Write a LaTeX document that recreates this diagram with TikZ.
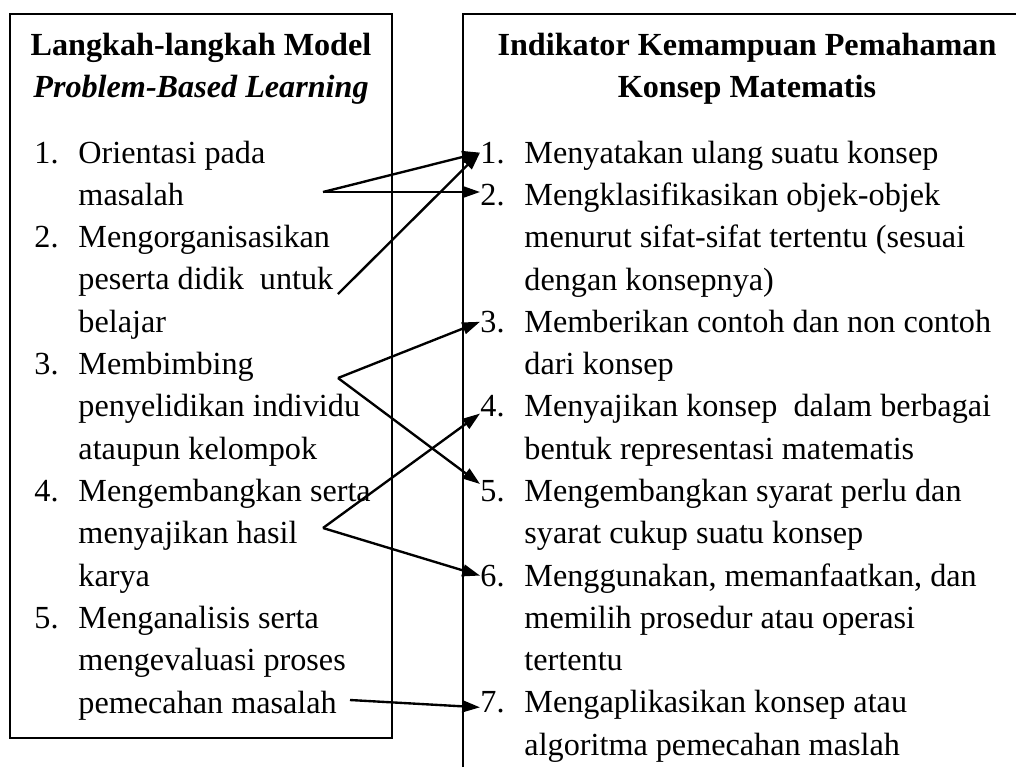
\documentclass[tikz,border=0pt]{standalone}
\usepackage{fontspec}
\setmainfont{Liberation Serif}
\usetikzlibrary{arrows.meta}
\newcommand{\itemlines}[1]{\begin{tabular}[t]{@{}l@{}}#1\end{tabular}}
\newcommand{\headlines}[1]{\begin{tabular}[t]{@{}c@{}}#1\end{tabular}}
\tikzset{
  numtext/.style={anchor=base west,inner sep=0pt,font=\fontsize{13.6}{17.9}\selectfont},
  headtext/.style={anchor=base,inner sep=0pt,font=\fontsize{13.6}{17.9}\selectfont\bfseries},
  link/.style={-{Triangle[length=7.5pt,width=5pt]},line width=1pt},
  frame/.style={line width=1.2pt}
}
\begin{document}
\begin{tikzpicture}[x=0.4225pt,y=-0.4225pt]
\useasboundingbox (0,0) rectangle (1016,767);
% boxes
\draw[frame] (10,14) rectangle (392,738);
\draw[frame] (463,767) -- (463,14) -- (1016,14);
% headings
\node[headtext] (lhead) at (201,55) {\headlines{Langkah-langkah Model\\\textit{Problem-Based Learning}}};
\node[headtext] (rhead) at (747,55) {\headlines{Indikator Kemampuan Pemahaman\\Konsep Matematis}};
% left list
\node[numtext] (l1) at (34,163) {1.};
\node[numtext] (lt1) at (78,163) {\itemlines{Orientasi pada\\masalah}};
\node[numtext] (l2) at (34,247.6) {2.};
\node[numtext] (lt2) at (78,247.6) {\itemlines{Mengorganisasikan\\peserta didik\ \ untuk\\belajar}};
\node[numtext] (l3) at (34,374.5) {3.};
\node[numtext] (lt3) at (78,374.5) {\itemlines{Membimbing\\penyelidikan individu\\ataupun kelompok}};
\node[numtext] (l4) at (34,501.4) {4.};
\node[numtext] (lt4) at (78,501.4) {\itemlines{Mengembangkan serta\\menyajikan hasil\\karya}};
\node[numtext] (l5) at (34,628.3) {5.};
\node[numtext] (lt5) at (78,628.3) {\itemlines{Menganalisis serta\\mengevaluasi proses\\pemecahan masalah}};
% right list
\node[numtext] (r1) at (480,163) {1.};
\node[numtext] (rt1) at (524,163) {Menyatakan ulang suatu konsep};
\node[numtext] (r2) at (480,205.3) {2.};
\node[numtext] (rt2) at (524,205.3) {\itemlines{Mengklasifikasikan objek-objek\\menurut sifat-sifat tertentu (sesuai\\dengan konsepnya)}};
\node[numtext] (r3) at (480,332.2) {3.};
\node[numtext] (rt3) at (524,332.2) {\itemlines{Memberikan contoh dan non contoh\\dari konsep}};
\node[numtext] (r4) at (480,416.8) {4.};
\node[numtext] (rt4) at (524,416.8) {\itemlines{Menyajikan konsep\ \ dalam berbagai\\bentuk representasi matematis}};
\node[numtext] (r5) at (480,501.4) {5.};
\node[numtext] (rt5) at (524,501.4) {\itemlines{Mengembangkan syarat perlu dan\\syarat cukup suatu konsep}};
\node[numtext] (r6) at (480,586) {6.};
\node[numtext] (rt6) at (524,586) {\itemlines{Menggunakan, memanfaatkan, dan\\memilih prosedur atau operasi\\tertentu}};
\node[numtext] (r7) at (480,712.9) {7.};
\node[numtext] (rt7) at (524,712.9) {\itemlines{Mengaplikasikan konsep atau\\algoritma pemecahan maslah}};
% arrow starts
\coordinate (s1) at (323,192);
\coordinate (s2) at (338,294);
\coordinate (s3) at (338,378);
\coordinate (s4) at (323,528);
\coordinate (s5) at (350,700);
% links
\draw[link] (s1) -- (r1.west);
\draw[link] (s1) -- (s1 -| r2.west);
\draw[link] (s2) -- (r1.west);
\draw[link] (s3) -- (r3.west);
\draw[link] (s3) -- ([yshift=3pt]r5.west);
\draw[link] (s4) -- ([yshift=-3pt]r4.west);
\draw[link] (s4) -- (r6.west);
\draw[link] (s5) -- ([yshift=-2pt]r7.west);
\end{tikzpicture}
\end{document}
